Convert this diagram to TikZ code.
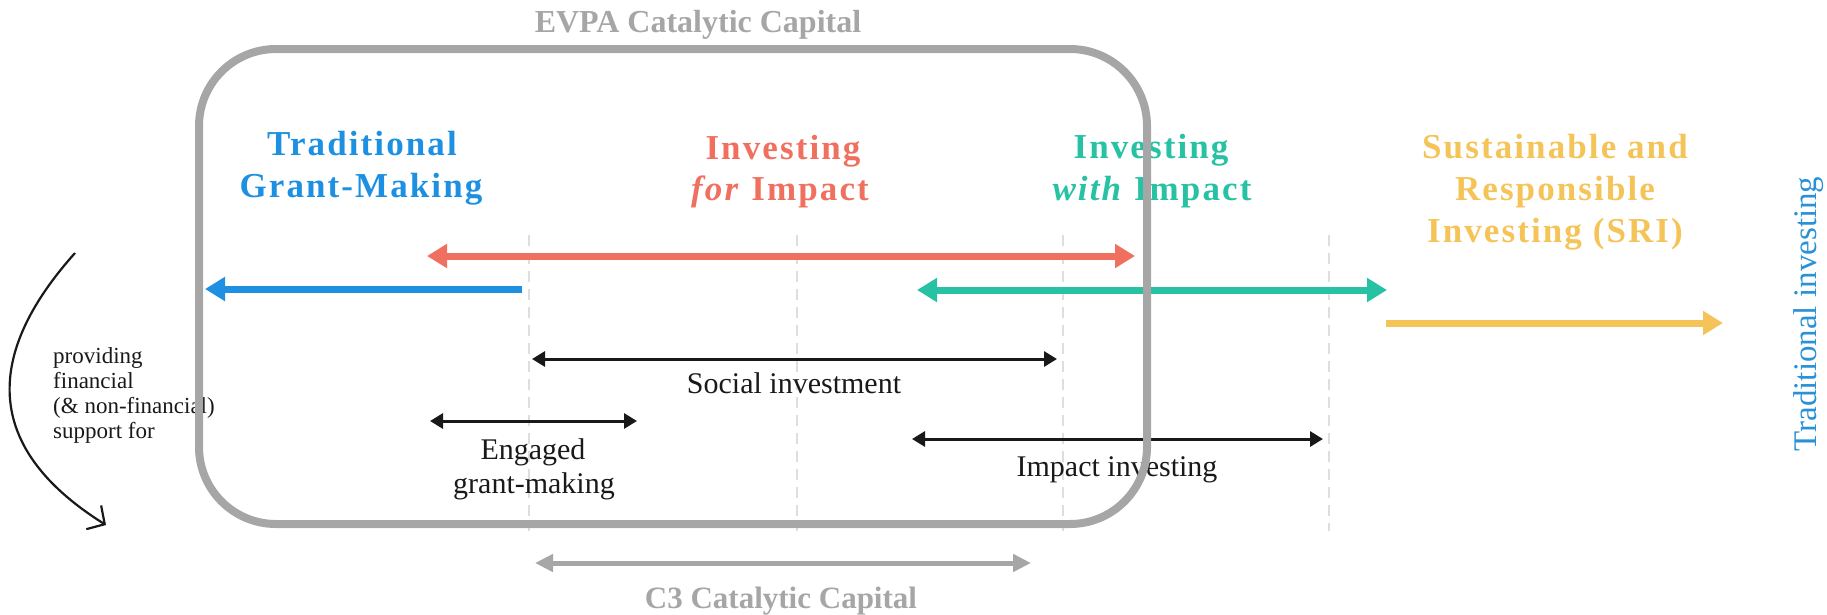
\documentclass[tikz,border=0pt]{standalone}
\usepackage{fontspec}
\setmainfont{Liberation Serif}
\newfontfamily\headfont[LetterSpace=6]{Liberation Serif}
\usetikzlibrary{arrows.meta}
\definecolor{tgblue}{RGB}{30,144,225}
\definecolor{ifred}{RGB}{240,112,96}
\definecolor{iwteal}{RGB}{38,194,163}
\definecolor{sriyellow}{RGB}{245,196,88}
\definecolor{boxgray}{RGB}{166,166,166}
\definecolor{dashgray}{RGB}{222,222,222}
\definecolor{tiblue}{RGB}{40,145,215}
\definecolor{textblack}{RGB}{25,25,25}
\begin{document}
\begin{tikzpicture}[x=1pt,y=-1pt,
  head/.style={font=\headfont\bfseries\fontsize{35}{40}\selectfont, inner sep=0pt, anchor=base},
  title/.style={font=\bfseries\fontsize{32}{38}\selectfont, text=boxgray, inner sep=0pt, anchor=base},
  body/.style={font=\fontsize{30}{34}\selectfont, text=textblack, inner sep=0pt, anchor=base},
  small/.style={font=\fontsize{23}{25}\selectfont, text=textblack, inner sep=0pt, anchor=base west},
  bigtip/.tip={Triangle[length=20pt,width=23pt]},
  blacktip/.tip={Triangle[length=13pt,width=15pt]},
  graytip/.tip={Triangle[length=18pt,width=17pt]},
  band/.style={line width=7pt},
  rangebar/.style={line width=3pt, textblack, blacktip-blacktip},
  guide/.style={dashgray, line width=1.5pt, dash pattern=on 11pt off 7pt},
]
\useasboundingbox (0,0) rectangle (1827,614);

% dashed guides
\foreach \gx/\gn in {529/ga,797/gb,1063/gc,1329/gd}{
  \coordinate (\gn top) at (\gx,235);
  \coordinate (\gn bot) at (\gx,531);
  \draw[guide] (\gn top) -- (\gn bot);
}

% coloured bands
\coordinate (blueL) at (205,289);
\coordinate (blueR) at (522,289);
\draw[band, tgblue, -bigtip] (blueR) -- (blueL);
\coordinate (redL) at (427,256);
\coordinate (redR) at (1135,256);
\draw[band, ifred, bigtip-bigtip] (redL) -- (redR);
\coordinate (tealL) at (917,290);
\coordinate (tealR) at (1387,290);
\draw[band, iwteal, bigtip-bigtip] (tealL) -- (tealR);
\coordinate (yelL) at (1386,323);
\coordinate (yelR) at (1723,323);
\draw[band, sriyellow, -bigtip] (yelL) -- (yelR);

% black ranges
\coordinate (socL) at (532,359);
\coordinate (socR) at (1057,359);
\draw[rangebar] (socL) -- (socR);
\coordinate (engL) at (430,421);
\coordinate (engR) at (637,421);
\draw[rangebar] (engL) -- (engR);
\coordinate (impL) at (912,439);
\coordinate (impR) at (1323,439);
\draw[rangebar] (impL) -- (impR);

% C3 range
\coordinate (c3L) at (535,563);
\coordinate (c3R) at (1031,563);
\draw[boxgray, line width=5pt, graytip-graytip] (c3L) -- (c3R);

% headings
\node[head, text=tgblue] (tg1) at (362,155) {Traditional};
\node[head, text=tgblue] (tg2) at (361,197) {Grant-Making};
\node[head, text=ifred] (if1) at (783,159) {Investing};
\node[head, text=ifred] (if2) at (780,200) {\textit{for} Impact};
\node[head, text=iwteal] (iw1) at (1151,158) {Investing};
\node[head, text=iwteal] (iw2) at (1152,200) {\textit{with} Impact};
\node[head, text=sriyellow] (sri1) at (1555,158) {Sustainable and};
\node[head, text=sriyellow] (sri2) at (1555,200) {Responsible};
\node[head, text=sriyellow] (sri3) at (1555,242) {Investing (SRI)};

\node[title] (evpa) at (698,32) {EVPA Catalytic Capital};
\node[title, font=\bfseries\fontsize{31}{36}\selectfont] (c3) at (781,608) {C3 Catalytic Capital};

\node[font=\fontsize{33}{38}\selectfont, text=tiblue, inner sep=0pt, anchor=base, rotate=90] (tinv) at (1816,314) {Traditional investing};

% body labels
\node[body] (soc) at (794,393) {Social investment};
\node[body] (eng1) at (533,459) {Engaged};
\node[body] (eng2) at (534,493) {grant-making};
\node[body] (imp) at (1117,476) {Impact investing};

\node[small] (p1) at (53,363) {providing};
\node[small] (p2) at (53,388) {financial};
\node[small] (p3) at (53,413) {(\& non-financial)};
\node[small] (p4) at (53,438) {support for};

% curved arrow
\coordinate (cs) at (75,253);
\coordinate (ce) at (106,525);
\draw[textblack, line width=2.2pt, -{Straight Barb[length=13pt,width=28pt]}]
  (cs) .. controls (-1,338) and (-33,438) .. (ce);

% EVPA box on top
\draw[boxgray, line width=8pt, rounded corners=77pt] (199,49) rectangle (1147,524);
\end{tikzpicture}
\end{document}
